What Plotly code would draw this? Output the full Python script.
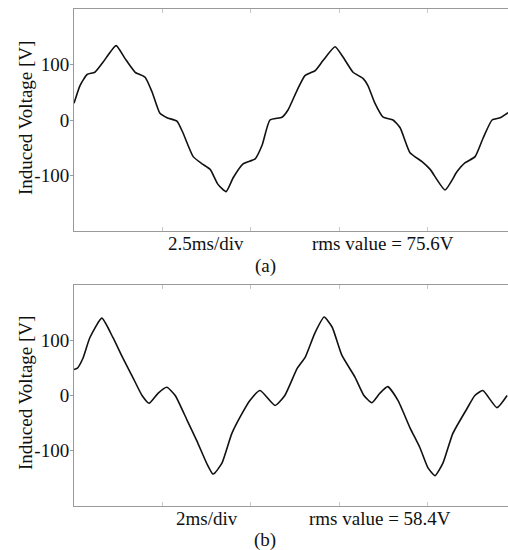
import plotly.graph_objects as go

# ---- data ----
t_a = [0.00, 0.17, 0.37, 0.59, 0.82, 1.19, 1.44, 1.73, 2.01, 2.21, 2.43, 2.63, 2.91, 3.08,
       3.37, 3.62, 3.85, 4.07, 4.30, 4.50, 4.78, 5.12, 5.32, 5.54, 5.88, 6.05, 6.31, 6.53,
       6.82, 7.04, 7.38, 7.61, 7.89, 8.17, 8.31, 8.51, 8.74, 9.02, 9.22, 9.50, 9.84, 10.07,
       10.49, 10.83, 11.06, 11.34, 11.57, 11.82, 12.05, 12.27]
v_a = [30, 62, 82, 86, 104, 134, 111, 86, 77, 50, 12, 4, -2, -23,
       -66, -79, -89, -116, -129, -104, -79, -70, -45, 0, 5, 18, 54, 80,
       89, 107, 132, 113, 86, 75, 62, 30, 5, 0, -14, -59, -75, -89,
       -126, -93, -77, -66, -32, 0, 4, 13]

t_b = [0.00, 0.07, 0.20, 0.36, 0.63, 0.88, 1.11, 1.33, 1.54, 1.70, 1.90, 2.10, 2.29, 2.56,
       2.78, 3.01, 3.14, 3.19, 3.35, 3.57, 3.80, 3.98, 4.21, 4.55, 4.77, 5.05, 5.23, 5.45,
       5.66, 5.84, 6.06, 6.36, 6.56, 6.74, 6.92, 7.10, 7.33, 7.60, 7.83, 8.01, 8.17, 8.35,
       8.57, 8.89, 9.07, 9.25, 9.57, 9.80]
v_b = [47, 49, 67, 105, 140, 105, 67, 33, 0, -14, 4, 15, 0, -45,
       -82, -124, -142, -140, -122, -69, -33, -9, 9, -18, 0, 49, 69, 113,
       142, 124, 73, 33, 0, -13, 4, 16, -9, -58, -95, -131, -145, -122,
       -69, -24, 0, 9, -22, 0]

div_a = 2.5   # ms/div
div_b = 2.0
xmax_a = 12.27
xmax_b = 9.82
y_ticks = [-100, 0, 100]
y_ticktext = ["-100", "0", "100"]
labels_a = ["2.5ms/div", "rms value = 75.6V", "(a)"]
labels_b = ["2ms/div", "rms value = 58.4V", "(b)"]
ytitle = "Induced Voltage [V]"

W, H = 508, 550
L = 74
FONT = "Liberation Serif, Times New Roman, serif"
FS = 19
AX = "#9a9a9a"

fig = go.Figure()
for xs, ys, xa, ya in ((t_a, v_a, "x", "y"), (t_b, v_b, "x2", "y2")):
    fig.add_trace(go.Scatter(x=xs, y=ys, mode="lines",
                             line=dict(color="#111111", width=1.6, shape="spline", smoothing=0.5),
                             xaxis=xa, yaxis=ya, showlegend=False, hoverinfo="skip"))

def py(p):
    return 1 - p / H

def px(p):
    return (p - L) / (W - L)

xcommon = dict(showgrid=False, zeroline=False, showline=True, linecolor=AX, linewidth=1,
               mirror="ticks", ticks="inside", ticklen=4, tickcolor="#c8c8c8",
               showticklabels=False, fixedrange=True)
ycommon = dict(showgrid=False, zeroline=False, showline=True, linecolor=AX, linewidth=1,
               mirror=False, ticks="outside", ticklen=3, tickcolor=AX,
               tickvals=y_ticks, ticktext=y_ticktext, range=[-200, 200],
               ticklabelstandoff=-3,
               tickfont=dict(family=FONT, size=FS, color="#111"), fixedrange=True)

fig.update_layout(
    width=W, height=H,
    margin=dict(l=L, r=0, t=0, b=0),
    paper_bgcolor="white", plot_bgcolor="white",
    font=dict(family=FONT, size=FS, color="#111"),
    xaxis=dict(domain=[0, 1], range=[0, xmax_a], dtick=div_a, tick0=0, anchor="y", **xcommon),
    yaxis=dict(domain=[py(231), py(9)], anchor="x", **ycommon),
    xaxis2=dict(domain=[0, 1], range=[0, xmax_b], dtick=div_b, tick0=0, anchor="y2", **xcommon),
    yaxis2=dict(domain=[py(506), py(285)], anchor="x2", **ycommon),
)

ann = []
def txt(s, x, y, angle=0):
    ann.append(dict(text=s, x=px(x), y=py(y), xref="paper", yref="paper",
                    xanchor="center", yanchor="middle", showarrow=False, textangle=angle,
                    font=dict(family=FONT, size=FS, color="#111")))

txt(labels_a[0], 206, 244)
txt(labels_a[1], 383, 244)
txt(labels_a[2], 265, 266)
txt(labels_b[0], 207, 518)
txt(labels_b[1], 380, 518)
txt(labels_b[2], 265, 540)
txt(ytitle, 25, 118, -90)
txt(ytitle, 25, 393, -90)
fig.update_layout(annotations=ann)

fig.write_html("out.html")
